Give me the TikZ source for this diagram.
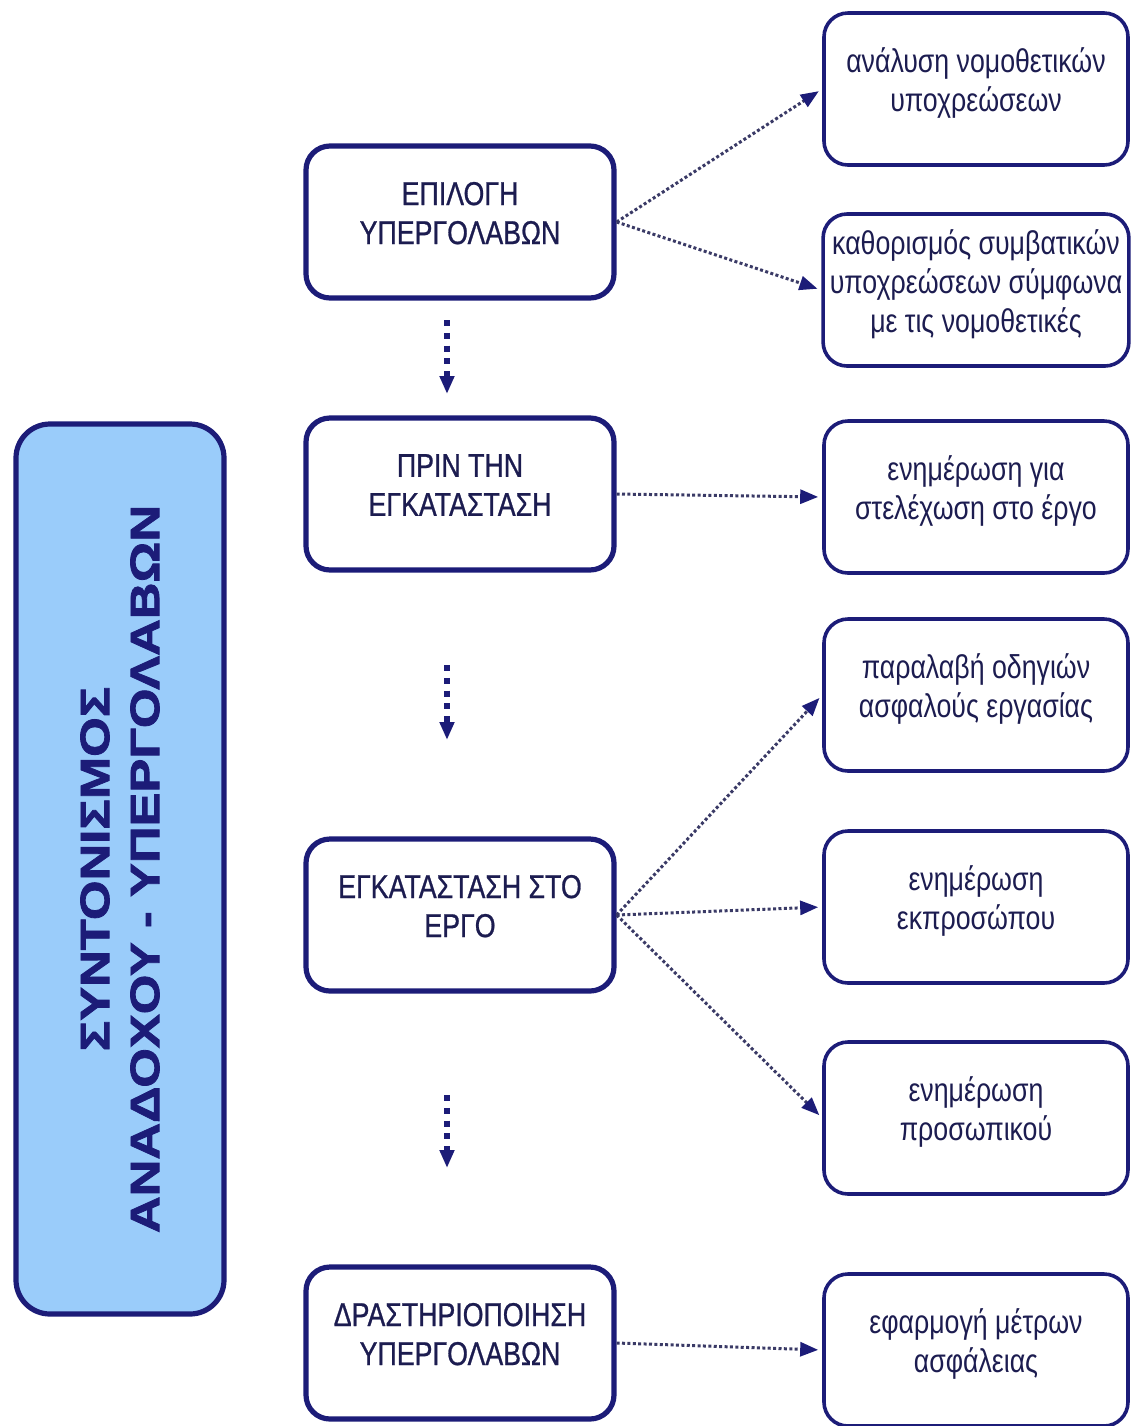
\documentclass[tikz,border=0pt]{standalone}
\usepackage{fontspec}
\usetikzlibrary{arrows.meta}
\newfontfamily\boxfont[FakeStretch=0.81]{Liberation Sans}
\newfontfamily\stagefont[FakeStretch=0.81,FakeBold=0.8]{Liberation Sans}
\newfontfamily\sidefont[FakeStretch=1.24,FakeBold=2]{Liberation Sans Bold}
\definecolor{navy}{HTML}{1C1C78}
\definecolor{inkblue}{HTML}{1C1C50}
\definecolor{sidefill}{HTML}{9ACCFA}
\definecolor{dotgrey}{HTML}{3A3A66}
\begin{document}
\begin{tikzpicture}[x=0.5pt,y=-0.5pt,
    stagebox/.style={draw=navy,line width=2.6pt,rounded corners=12pt,
      minimum width=154pt,minimum height=76pt,align=center,text=inkblue,
      text depth=9pt,font=\stagefont\fontsize{16.5}{19.5}\selectfont},
    taskbox/.style={draw=navy,line width=1.8pt,rounded corners=12pt,
      minimum width=152pt,minimum height=76pt,align=center,text=inkblue,
      text depth=9pt,font=\boxfont\fontsize{16.5}{19.5}\selectfont},
    sidebox/.style={draw=navy,line width=2.6pt,fill=sidefill,rounded corners=17pt,
      minimum width=445pt,minimum height=104pt,align=center,text=navy,
      font=\sidefont\fontsize{20.5}{25}\selectfont},
    link/.style={dotgrey,line width=1.5pt,dash pattern=on 1.5pt off 1.2pt,
      -{Triangle[length=9pt,width=7pt,color=navy,fill=navy]}},
    steplink/.style={navy,line width=3pt,dash pattern=on 3pt off 3.4pt,
      -{Triangle[length=9pt,width=7pt,fill=navy]}}]
  \useasboundingbox (0,0) rectangle (1137,1426);

  \node[sidebox,rotate=90] (side) at (120,869) {ΣΥΝΤΟΝΙΣΜΟΣ\\ΑΝΑΔΟΧΟΥ - ΥΠΕΡΓΟΛΑΒΩΝ};

  \node[stagebox] (m1) at (460,222) {ΕΠΙΛΟΓΗ\\ΥΠΕΡΓΟΛΑΒΩΝ};
  \node[stagebox] (m2) at (460,494) {ΠΡΙΝ ΤΗΝ\\ΕΓΚΑΤΑΣΤΑΣΗ};
  \node[stagebox] (m3) at (460,915) {ΕΓΚΑΤΑΣΤΑΣΗ ΣΤΟ\\ΕΡΓΟ};
  \node[stagebox] (m4) at (460,1343) {ΔΡΑΣΤΗΡΙΟΠΟΙΗΣΗ\\ΥΠΕΡΓΟΛΑΒΩΝ};

  \node[taskbox] (r1) at (976,89) {ανάλυση νομοθετικών\\υποχρεώσεων};
  \node[taskbox] (r2) at (976,290) {καθορισμός συμβατικών\\υποχρεώσεων σύμφωνα\\με τις νομοθετικές};
  \node[taskbox] (r3) at (976,497) {ενημέρωση για\\στελέχωση στο έργο};
  \node[taskbox] (r4) at (976,695) {παραλαβή οδηγιών\\ασφαλούς εργασίας};
  \node[taskbox] (r5) at (976,907) {ενημέρωση\\εκπροσώπου};
  \node[taskbox] (r6) at (976,1118) {ενημέρωση\\προσωπικού};
  \node[taskbox] (r7) at (976,1350) {εφαρμογή μέτρων\\ασφάλειας};

  \coordinate (v1a) at (447,320);
  \coordinate (v1b) at (447,394);
  \coordinate (v2a) at (447,665);
  \coordinate (v2b) at (447,740);
  \coordinate (v3a) at (447,1095);
  \coordinate (v3b) at (447,1168);

  \draw[steplink] (v1a) -- (v1b);
  \draw[steplink] (v2a) -- (v2b);
  \draw[steplink] (v3a) -- (v3b);

  \path[link]
  (m1.east) edge[shorten >=2pt] (r1.west)
  (m1.east) edge[shorten >=2pt] (r2.west)
  (m2.east) edge[shorten >=2pt] (r3.west)
  (m3.east) edge[shorten >=2pt] (r4.west)
  (m3.east) edge[shorten >=2pt] (r5.west)
  (m3.east) edge[shorten >=2pt] (r6.west)
  (m4.east) edge[shorten >=2pt] (r7.west);
\end{tikzpicture}
\end{document}
